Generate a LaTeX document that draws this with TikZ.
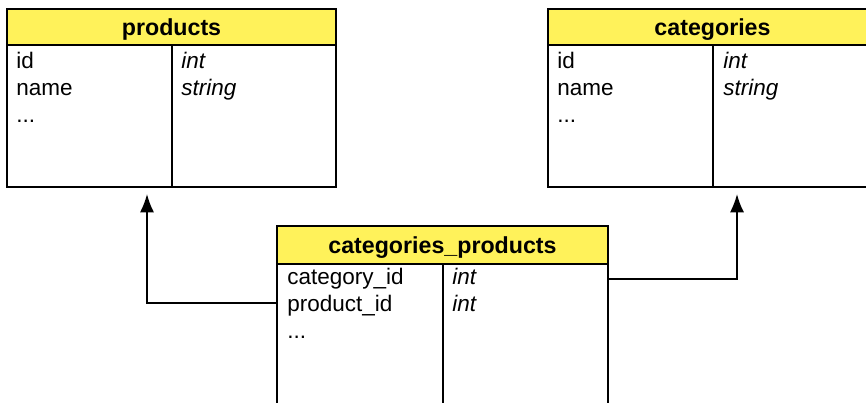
\documentclass[tikz,border=0pt]{standalone}
\usepackage{fontspec}
\setmainfont{Liberation Sans}
\usetikzlibrary{arrows.meta}

\definecolor{headyellow}{RGB}{255,242,90}

\tikzset{
  tbl/.style={draw, line width=1.2pt},
  head/.style={anchor=base, inner sep=0pt, font=\fontsize{16.5}{19}\selectfont\bfseries},
  field/.style={anchor=base west, inner sep=0pt},
  ftype/.style={field, font=\fontsize{16}{19}\selectfont\itshape},
  link/.style={line width=1.2pt, -{Latex[length=13pt,width=10pt]}, shorten >=5pt}
}

\begin{document}
\begin{tikzpicture}[x=0.025cm, y=-0.025cm, font=\fontsize{16}{19}\selectfont]
\useasboundingbox (0,0) rectangle (866,402);
\clip (0,0) rectangle (866,402);

% products table
\draw[tbl, fill=headyellow] (7,9) rectangle (336,45);
\draw[tbl, fill=white] (7,45) rectangle (336,187);
\draw[tbl] (172,45) -- (172,187);
\node[head] (prodhead) at (171.5,35) {products};
\node[field] (prodid) at (16,68) {id};
\node[ftype] (prodidtype) at (181,68) {int};
\node[field] (prodname) at (16,95) {name};
\node[ftype] (prodnametype) at (181,95) {string};
\node[field] (proddots) at (16,122) {...};

% categories table
\draw[tbl, fill=headyellow] (548,9) rectangle (877,45);
\draw[tbl, fill=white] (548,45) rectangle (877,187);
\draw[tbl] (713,45) -- (713,187);
\node[head] (cathead) at (712.5,35) {categories};
\node[field] (catid) at (557,68) {id};
\node[ftype] (catidtype) at (723,68) {int};
\node[field] (catname) at (557,95) {name};
\node[ftype] (catnametype) at (723,95) {string};
\node[field] (catdots) at (557,122) {...};

% join table
\draw[tbl, fill=headyellow] (277,226) rectangle (608,264);
\draw[tbl, fill=white] (277,264) rectangle (608,420);
\draw[tbl] (443,264) -- (443,420);
\node[head] (cphead) at (442.5,253) {categories\_products};
\node[field] (cpcat) at (287,284) {category\_id};
\node[ftype] (cpcattype) at (452,284) {int};
\node[field] (cpprod) at (287,311) {product\_id};
\node[ftype] (cpprodtype) at (452,311) {int};
\node[field] (cpdots) at (287,338) {...};

% foreign keys
\coordinate (cpwest) at (277,303);
\coordinate (cpeast) at (608,279);
\coordinate (prodfoot) at (147,187);
\coordinate (catfoot) at (737,187);
\draw[link] (cpwest) -| (prodfoot);
\draw[link] (cpeast) -| (catfoot);
\end{tikzpicture}
\end{document}
